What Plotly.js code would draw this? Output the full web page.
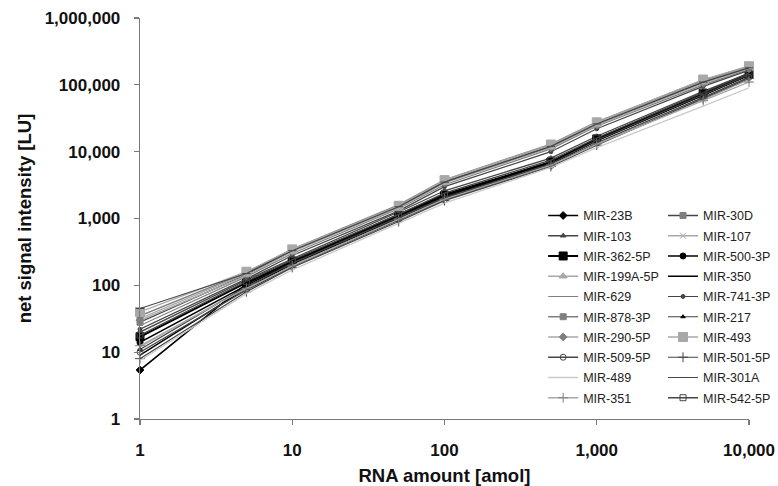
<!DOCTYPE html>
<html>
<head>
<meta charset="utf-8">
<script src="https://cdn.plot.ly/plotly-3.0.1.min.js"></script>
<style>html,body{margin:0;padding:0;background:#fff;}#chart{width:778px;height:486px;}</style>
</head>
<body>
<div id="chart"></div>
<script>
// RNA amount [amol]
const rnaAmount = [1, 5, 10, 50, 100, 500, 1000, 5000, 10000];

// net signal intensity [LU] per miRNA
const mir23b   = [5.4, 105, 230, 1150, 2300, 7000, 15000, 70000, 150000];
const mir30d   = [28, 145, 330, 1500, 3600, 12000, 26000, 110000, 180000];
const mir103   = [20, 120, 250, 1250, 2600, 8000, 17000, 80000, 150000];
const mir107   = [12, 95, 200, 1000, 2000, 6500, 13000, 60000, 120000];
const mir362   = [17, 110, 230, 1100, 2200, 7000, 15500, 75000, 145000];
const mir500   = [14, 100, 220, 1050, 2100, 6800, 15000, 72000, 140000];
const mir199a  = [32, 150, 340, 1550, 3700, 12500, 27000, 115000, 185000];
const mir350   = [9, 90, 210, 1000, 2000, 6500, 14500, 70000, 140000];
const mir629   = [25, 135, 300, 1400, 3200, 11000, 24000, 100000, 170000];
const mir741   = [22, 125, 280, 1300, 3000, 10000, 22000, 95000, 165000];
const mir878   = [35, 155, 350, 1600, 3800, 13000, 28000, 118000, 190000];
const mir217   = [11, 95, 215, 1050, 2050, 6600, 14800, 71000, 142000];
const mir290   = [30, 140, 320, 1450, 3400, 11500, 25000, 105000, 175000];
const mir493   = [40, 160, 345, 1550, 3750, 12800, 27500, 120000, 190000];
const mir509   = [10, 85, 190, 950, 1900, 6200, 13500, 65000, 130000];
const mir501   = [8, 80, 185, 900, 1850, 6000, 12500, 62000, 125000];
const mir489   = [7.5, 75, 170, 850, 1700, 5800, 11500, 48000, 90000];
const mir301a  = [45, 150, 330, 1500, 3500, 12000, 26000, 110000, 180000];
const mir351   = [12.5, 90, 195, 980, 1950, 6300, 13000, 58000, 110000];
const mir542   = [18, 115, 240, 1150, 2400, 7500, 16000, 78000, 150000];

const leftNames  = ['MIR-23B','MIR-103','MIR-362-5P','MIR-199A-5P','MIR-629','MIR-878-3P','MIR-290-5P','MIR-509-5P','MIR-489','MIR-351'];
const rightNames = ['MIR-30D','MIR-107','MIR-500-3P','MIR-350','MIR-741-3P','MIR-217','MIR-493','MIR-501-5P','MIR-301A','MIR-542-5P'];
const leftValues  = [mir23b, mir103, mir362, mir199a, mir629, mir878, mir290, mir509, mir489, mir351];
const rightValues = [mir30d, mir107, mir500, mir350, mir741, mir217, mir493, mir501, mir301a, mir542];

const K = '#000000', D = '#454545', M = '#7f7f7f', L = '#a8a8a8', VL = '#cacaca';
// styles: [lineColor, lineWidth, symbol, size, markerColor]
const leftStyles = [
  [K, 1.5, 'diamond', 6, K],
  [D, 1.3, 'triangle-up', 5, D],
  [K, 2, 'square', 8, K],
  [L, 1.3, 'triangle-up', 7, L],
  [M, 1.2, null, 0, M],
  [M, 1.3, 'square', 6, M],
  [L, 1.3, 'diamond', 6, M],
  [D, 1.3, 'circle-open', 6, D],
  [VL, 1.3, null, 0, VL],
  [L, 1.3, 'cross-thin-open', 7, M]
];
const rightStyles = [
  [D, 1.3, 'square', 6, M],
  [L, 1.3, 'x-thin-open', 6, L],
  [K, 1.5, 'circle', 6, K],
  [K, 1.5, null, 0, K],
  [D, 1.2, 'circle', 4, D],
  [D, 1.2, 'triangle-up', 4, K],
  [L, 1.3, 'square', 9, L],
  [D, 1.2, 'cross-thin-open', 7, D],
  [D, 1.2, 'line-ew-open', 6, D],
  [D, 1.3, 'square-open', 6, D]
];

function mk(name, vals, st, legendId) {
  const t = {
    x: rnaAmount, y: vals, name: name, type: 'scatter',
    mode: st[2] ? 'lines+markers' : 'lines',
    line: {color: st[0], width: st[1]},
    cliponaxis: false,
    legend: legendId,
    legendgroup: name
  };
  if (st[2]) t.marker = {symbol: st[2], size: st[3], color: st[4], line: {color: st[4], width: 1}};
  return t;
}
const traces = [];
for (let i = 0; i < 10; i++) {
  traces.push(mk(leftNames[i], leftValues[i], leftStyles[i], 'legend'));
  traces.push(mk(rightNames[i], rightValues[i], rightStyles[i], 'legend2'));
}

const FONT = 'Arial, "Liberation Sans", sans-serif';
const legendCommon = {
  yanchor: 'top', xanchor: 'left', bgcolor: 'rgba(0,0,0,0)', borderwidth: 0,
  font: {family: FONT, size: 12.5, color: '#222'}, traceorder: 'grouped', tracegroupgap: 1, itemwidth: 30
};
const layout = {
  width: 778, height: 486,
  margin: {l: 140, r: 29, t: 18, b: 67, autoexpand: false},
  paper_bgcolor: '#fff', plot_bgcolor: '#fff',
  font: {family: FONT, color: '#111'},
  showlegend: true,
  xaxis: {
    type: 'log', range: [0, 4], dtick: 1, tickformat: ',d',
    showline: true, linecolor: '#7a7a7a', linewidth: 1.3,
    ticks: 'outside', ticklen: 5, tickcolor: '#7a7a7a', tickwidth: 1.3,
    showgrid: false, zeroline: false, ticklabelstandoff: 10,
    tickfont: {family: FONT, size: 17, weight: 'bold', color: '#111'},
    title: {text: 'RNA amount [amol]', font: {family: FONT, size: 18.5, weight: 'bold', color: '#111'}, standoff: 12},
    automargin: false
  },
  yaxis: {
    type: 'log', range: [0, 6], dtick: 1, tickformat: ',d',
    showline: true, linecolor: '#7a7a7a', linewidth: 1.3,
    ticks: 'outside', ticklen: 5, tickcolor: '#7a7a7a', tickwidth: 1.3,
    showgrid: false, zeroline: false, ticklabelstandoff: 10,
    tickfont: {family: FONT, size: 17, weight: 'bold', color: '#111'},
    title: {text: 'net signal intensity [LU]', font: {family: FONT, size: 18.5, weight: 'bold', color: '#111'}, standoff: 8},
    automargin: false
  },
  legend: Object.assign({x: 0.662, y: 0.544}, legendCommon),
  legend2: Object.assign({x: 0.8588, y: 0.544}, legendCommon)
};
Plotly.newPlot('chart', traces, layout, {displayModeBar: false, staticPlot: true});
</script>
</body>
</html>
